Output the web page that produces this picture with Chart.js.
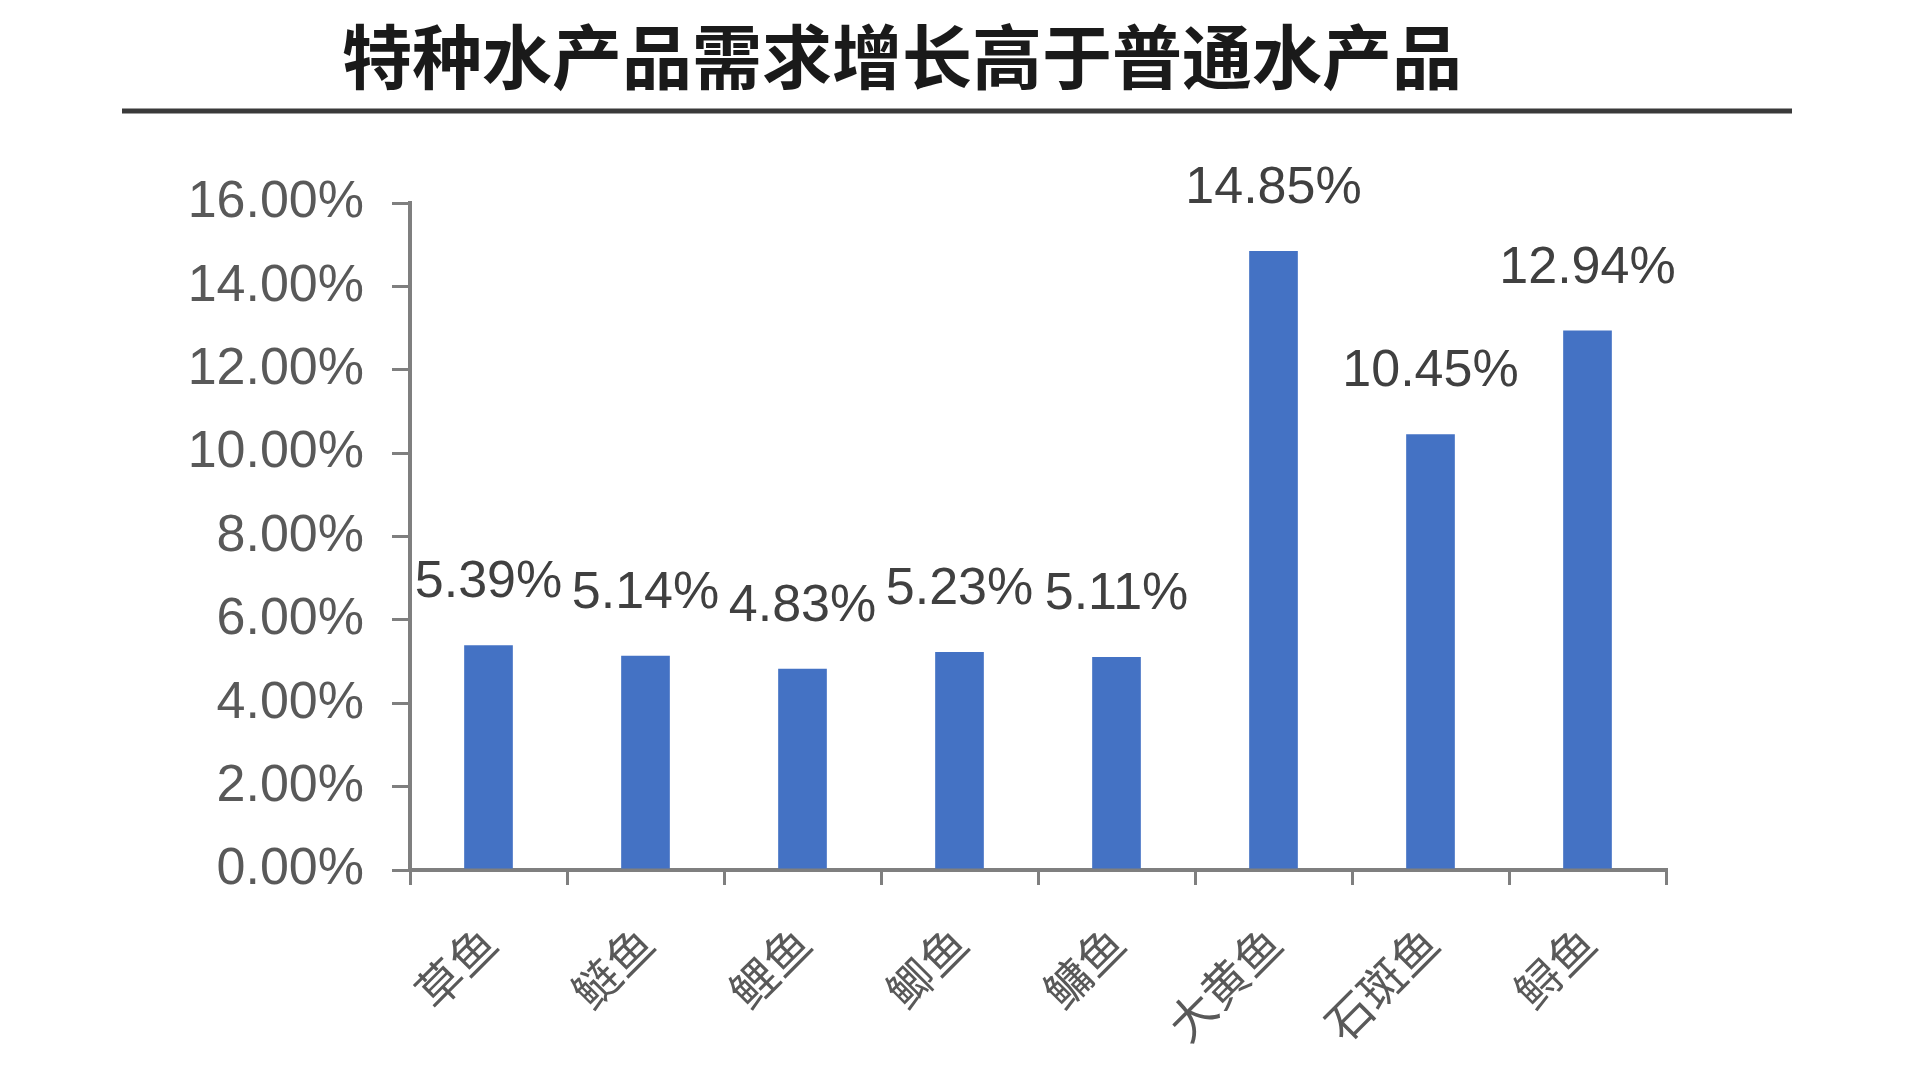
<!DOCTYPE html>
<html>
<head>
<meta charset="utf-8">
<script src="https://cdn.jsdelivr.net/npm/chart.js@4"></script>
<style>
  html, body { margin: 0; padding: 0; background: #fff; }
  #wrap { width: 1920px; height: 1080px; position: relative; }
</style>
</head>
<body>
<div id="wrap"><canvas id="mainChart" width="1920" height="1080"></canvas></div>
<script>
// chart data
const titleText = "特种水产品需求增长高于普通水产品";
const fishNames = ["草鱼", "鲢鱼", "鲤鱼", "鲫鱼", "鳙鱼", "大黄鱼", "石斑鱼", "鲟鱼"];
const growthRates = [5.39, 5.14, 4.83, 5.23, 5.11, 14.85, 10.45, 12.94];
const yTicks = [0, 2, 4, 6, 8, 10, 12, 14, 16];

const numFont = "'Liberation Sans', Arial, sans-serif";
const cjkFont = "'Noto Sans CJK SC', sans-serif";

// title + rule across the top
const headerPlugin = {
    id: "header",
    afterDraw(chart) {
        const c = chart.ctx;
        c.save();
        c.fillStyle = "#1a1a1a";
        c.font = "bold 70px " + cjkFont;
        c.textAlign = "center";
        c.textBaseline = "middle";
        c.fillText(titleText, 902, 57);
        c.strokeStyle = "#3a3a3a";
        c.lineWidth = 5;
        c.beginPath();
        c.moveTo(122, 111);
        c.lineTo(1792, 111);
        c.stroke();
        c.restore();
    }
};

// value labels above each bar
const valueLabels = {
    id: "valueLabels",
    afterDatasetsDraw(chart) {
        const c = chart.ctx;
        const meta = chart.getDatasetMeta(0);
        c.save();
        c.fillStyle = "#404040";
        c.font = "52px " + numFont;
        c.textAlign = "center";
        c.textBaseline = "alphabetic";
        meta.data.forEach(function (bar, i) {
            c.fillText(growthRates[i].toFixed(2) + "%", bar.x, bar.y - 48);
        });
        c.restore();
    }
};

let ctx = document.getElementById("mainChart").getContext("2d");
let mainChart = new Chart(ctx, {
    type: "bar",
    data: {
        labels: fishNames,
        datasets: [{
            label: "需求增长",
            data: growthRates,
            backgroundColor: "#4472C4",
            borderWidth: 0,
            barPercentage: 0.31,
            categoryPercentage: 1.0
        }]
    },
    options: {
        responsive: false,
        animation: false,
        layout: { padding: { top: 203, right: 254, bottom: 0, left: 0 } },
        plugins: {
            legend: { display: false },
            tooltip: { enabled: false }
        },
        scales: {
            x: {
                grid: {
                    display: true,
                    drawOnChartArea: false,
                    drawTicks: true,
                    tickLength: 15,
                    color: "#7f7f7f",
                    lineWidth: 3
                },
                border: { color: "#7f7f7f", width: 4 },
                ticks: {
                    color: "#595959",
                    font: { family: cjkFont, size: 46 },
                    minRotation: 45,
                    maxRotation: 45,
                    padding: 30
                },
                afterFit(scale) { scale.height = 210; }
            },
            y: {
                min: 0,
                max: 16,
                afterBuildTicks(scale) {
                    scale.ticks = yTicks.map(v => ({ value: v }));
                },
                grid: {
                    display: true,
                    drawOnChartArea: false,
                    drawTicks: true,
                    tickLength: 18,
                    color: "#7f7f7f",
                    lineWidth: 3
                },
                border: { color: "#7f7f7f", width: 4 },
                ticks: {
                    color: "#595959",
                    font: { family: numFont, size: 52 },
                    padding: 28,
                    callback: v => v.toFixed(2) + "%"
                },
                afterFit(scale) { scale.width = 410; }
            }
        }
    },
    plugins: [headerPlugin, valueLabels]
});
</script>
</body>
</html>
